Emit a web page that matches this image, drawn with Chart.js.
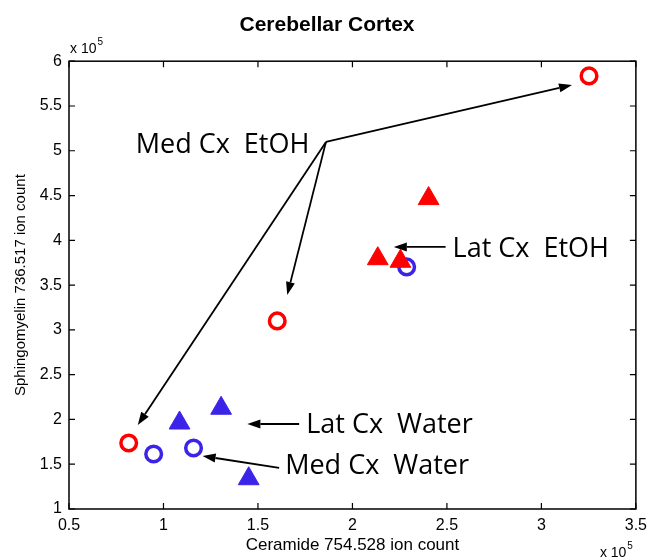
<!DOCTYPE html>
<html><head><meta charset="utf-8">
<script src="https://cdn.jsdelivr.net/npm/chart.js@4"></script>
<style>html,body{margin:0;padding:0;background:#fff}#wrap{width:654px;height:560px}</style>
</head><body><div id="wrap"><canvas id="c" width="654" height="560"></canvas></div>
<script>
// ---- data (values in units of 10^5 ion counts) ----
const titleText = 'Cerebellar Cortex';
const xAxisLabel = 'Ceramide 754.528 ion count';
const yAxisLabel = 'Sphingomyelin 736.517 ion count';
const xTicks = [0.5, 1, 1.5, 2, 2.5, 3, 3.5];
const yTicks = [1, 1.5, 2, 2.5, 3, 3.5, 4, 4.5, 5, 5.5, 6];
const multiplierLabel = 'x 10';
const multiplierExp = '5';

const medEtohX  = [3.252, 1.602, 0.816];
const medEtohY  = [5.836, 3.100, 1.737];
const medWaterX = [0.948, 1.159, 2.287];
const medWaterY = [1.614, 1.681, 3.703];
const latEtohX  = [2.403, 2.134, 2.254];
const latEtohY  = [4.466, 3.795, 3.766];
const latWaterX = [1.085, 1.305, 1.451];
const latWaterY = [1.960, 2.125, 1.338];

// annotation labels (anchored in data coordinates)
const annoLabels = ['Med Cx  EtOH', 'Lat Cx  EtOH', 'Lat Cx  Water', 'Med Cx  Water'];
const annoLabelX = [0.853, 2.530, 1.755, 1.644];
const annoLabelY = [4.979, 3.818, 1.849, 1.391];
// arrows: [fromX, fromY, toX, toY]
const arrowFromX = [1.860, 1.860, 1.860, 2.493, 1.718, 1.612];
const arrowFromY = [5.099, 5.099, 5.099, 3.926, 1.949, 1.458];
const arrowToX   = [3.162, 1.655, 0.864, 2.219, 1.444, 1.207];
const arrowToY   = [5.735, 3.390, 1.938, 3.926, 1.949, 1.592];

const RED = '#ff0000';
const BLUE = '#3b24e8';

const pts = (xs, ys) => xs.map((x, i) => ({x, y: ys[i]}));

const axisFont = {family: '"Liberation Sans", Arial, sans-serif', size: 16};

const boxPlugin = {
  id: 'boxTicks',
  afterDatasetsDraw(chart) {
    const {ctx, scales: {x, y}} = chart;
    ctx.save();
    ctx.strokeStyle = '#000';
    ctx.fillStyle = '#000';
    ctx.lineWidth = 1.8;
    for (let i = 0; i < arrowFromX.length; i++) {
      const x0 = x.getPixelForValue(arrowFromX[i]), y0 = y.getPixelForValue(arrowFromY[i]);
      const x1 = x.getPixelForValue(arrowToX[i]), y1 = y.getPixelForValue(arrowToY[i]);
      const ang = Math.atan2(y1 - y0, x1 - x0);
      const L = 13, W = 4.5;
      const bx = x1 - Math.cos(ang) * L, by = y1 - Math.sin(ang) * L;
      ctx.beginPath(); ctx.moveTo(x0, y0); ctx.lineTo(bx, by); ctx.stroke();
      ctx.beginPath();
      ctx.moveTo(x1, y1);
      ctx.lineTo(bx + Math.sin(ang) * W, by - Math.cos(ang) * W);
      ctx.lineTo(bx - Math.sin(ang) * W, by + Math.cos(ang) * W);
      ctx.closePath(); ctx.fill();
    }
    ctx.font = '27px "Open Sans", sans-serif';
    ctx.textAlign = 'left';
    ctx.textBaseline = 'alphabetic';
    annoLabels.forEach((t, i) => {
      ctx.fillText(t, x.getPixelForValue(annoLabelX[i]), y.getPixelForValue(annoLabelY[i]));
    });
    ctx.restore();
  },
  afterDraw(chart) {
    const {ctx, chartArea: a, scales: {x, y}} = chart;
    ctx.save();
    ctx.strokeStyle = '#000';
    ctx.lineWidth = 1.5;
    ctx.strokeRect(a.left, a.top, a.right - a.left, a.bottom - a.top);
    ctx.lineWidth = 1.2;
    const tl = 6;
    ctx.beginPath();
    x.ticks.forEach(t => {
      const px = x.getPixelForValue(t.value);
      ctx.moveTo(px, a.bottom); ctx.lineTo(px, a.bottom - tl);
      ctx.moveTo(px, a.top); ctx.lineTo(px, a.top + tl);
    });
    y.ticks.forEach(t => {
      const py = y.getPixelForValue(t.value);
      ctx.moveTo(a.left, py); ctx.lineTo(a.left + tl, py);
      ctx.moveTo(a.right, py); ctx.lineTo(a.right - tl, py);
    });
    ctx.stroke();
    ctx.fillStyle = '#000';
    ctx.textBaseline = 'alphabetic';
    ctx.textAlign = 'left';
    const drawMult = (lx, ly) => {
      ctx.font = '14px "Liberation Sans", Arial, sans-serif';
      ctx.fillText(multiplierLabel, lx, ly);
      const w = ctx.measureText(multiplierLabel).width;
      ctx.font = '10px "Liberation Sans", Arial, sans-serif';
      ctx.fillText(multiplierExp, lx + w + 1, ly - 8);
    };
    drawMult(a.left + 1, a.top - 8);
    drawMult(a.right - 36, 557);
    ctx.restore();
  }
};

new Chart(document.getElementById('c'), {
  type: 'scatter',
  data: {
    datasets: [
      {label: 'Lat Cx EtOH', data: pts(latEtohX, latEtohY), pointStyle: 'triangle', pointRadius: 12, pointBackgroundColor: RED, pointBorderColor: RED, borderWidth: 1},
      {label: 'Lat Cx Water', data: pts(latWaterX, latWaterY), pointStyle: 'triangle', pointRadius: 12, pointBackgroundColor: BLUE, pointBorderColor: BLUE, borderWidth: 1},
      {label: 'Med Cx EtOH', data: pts(medEtohX, medEtohY), pointStyle: 'circle', pointRadius: 7.8, pointBackgroundColor: 'rgba(0,0,0,0)', pointBorderColor: RED, pointBorderWidth: 3.5},
      {label: 'Med Cx Water', data: pts(medWaterX, medWaterY), pointStyle: 'circle', pointRadius: 7.8, pointBackgroundColor: 'rgba(0,0,0,0)', pointBorderColor: BLUE, pointBorderWidth: 3.5}
    ]
  },
  options: {
    responsive: false,
    devicePixelRatio: 1,
    animation: false,
    layout: {padding: {left: 0, right: 0, top: 0, bottom: 0}},
    plugins: {
      legend: {display: false},
      tooltip: {enabled: false},
      title: {display: true, text: titleText, color: '#000',
        font: {family: '"Liberation Sans", Arial, sans-serif', size: 21, weight: 'bold'},
        padding: {top: 13, bottom: 23}}
    },
    scales: {
      x: {
        type: 'linear', min: 0.5, max: 3.5,
        afterBuildTicks: s => { s.ticks = xTicks.map(v => ({value: v})); },
        afterFit: s => { s.height = 51; },
        grid: {display: false, drawTicks: false},
        border: {display: false},
        ticks: {color: '#000', font: axisFont, padding: 7, maxRotation: 0, autoSkip: false,
          callback: v => String(v)},
        title: {display: true, text: xAxisLabel, color: '#000',
          font: {family: '"Liberation Sans", Arial, sans-serif', size: 17}, padding: {top: 0, bottom: 4}}
      },
      y: {
        type: 'linear', min: 1, max: 6,
        afterBuildTicks: s => { s.ticks = yTicks.map(v => ({value: v})); },
        afterFit: s => { s.width = 69; },
        grid: {display: false, drawTicks: false},
        border: {display: false},
        ticks: {color: '#000', font: axisFont, padding: 7, autoSkip: false,
          callback: v => String(v)},
        title: {display: true, text: yAxisLabel, color: '#000',
          font: {family: '"Liberation Sans", Arial, sans-serif', size: 15}, padding: {top: 12, bottom: 0}}
      },
      yRight: {
        type: 'linear', position: 'right', min: 1, max: 6,
        afterFit: s => { s.width = 16; },
        grid: {display: false, drawTicks: false},
        border: {display: false},
        ticks: {display: false}
      }
    }
  },
  plugins: [boxPlugin]
});
</script></body></html>
